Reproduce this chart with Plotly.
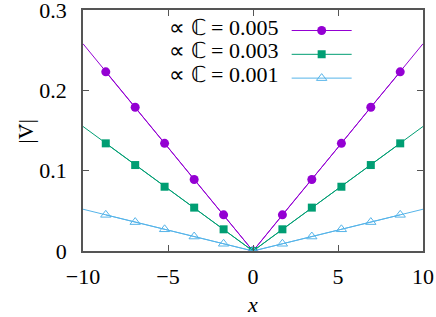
import plotly.graph_objects as go

# data
x_pts = [-8.66, -6.93, -5.20, -3.46, -1.73, 0.0, 1.73, 3.46, 5.20, 6.93, 8.66]
y_005 = [0.223, 0.179, 0.134, 0.089, 0.045, 0.0, 0.045, 0.089, 0.134, 0.179, 0.223]
y_003 = [0.134, 0.107, 0.080, 0.054, 0.027, 0.0, 0.027, 0.054, 0.080, 0.107, 0.134]
y_001 = [0.045, 0.036, 0.027, 0.018, 0.009, 0.0, 0.009, 0.018, 0.027, 0.036, 0.045]
x_line = [-10, 0, 10]
yl_005 = [0.258, 0.0, 0.258]
yl_003 = [0.155, 0.0, 0.155]
yl_001 = [0.052, 0.0, 0.052]
labels = ["\u221d \u2102 = 0.005", "\u221d \u2102 = 0.003", "\u221d \u2102 = 0.001"]
x_ticks = [-10, -5, 0, 5, 10]
x_ticktext = ["\u221210", "\u22125", "0", "5", "10"]
y_ticks = [0, 0.1, 0.2, 0.3]
y_ticktext = ["0", "0.1", "0.2", "0.3"]

colors = ["#9400D3", "#009E73", "#56B4E9"]
FONT = "Liberation Serif, Times New Roman, serif"
FS = 22

fig = go.Figure()
series = [
    (yl_005, y_005, dict(symbol="circle", size=9, color=colors[0])),
    (yl_003, y_003, dict(symbol="square", size=8, color=colors[1])),
    (yl_001, y_001, dict(symbol="triangle-up-open", size=9, color=colors[2], line=dict(width=1, color=colors[2]))),
]
for i, (yl, yp, mk) in enumerate(series):
    fig.add_trace(go.Scatter(x=x_line, y=yl, mode="lines", line=dict(color=colors[i], width=1),
                             showlegend=False, hoverinfo="skip"))
for i, (yl, yp, mk) in enumerate(series):
    fig.add_trace(go.Scatter(x=x_pts, y=yp, mode="lines+markers", name=" ",
                             line=dict(color=colors[i], width=1), marker=mk))

for i, lab in enumerate(labels):
    fig.add_annotation(text=lab, xref="paper", yref="paper", x=0.578, y=0.927 - i * 0.0965,
                       xanchor="right", yanchor="middle", showarrow=False,
                       font=dict(family=FONT, size=FS, color="#000"))

# y-axis title |V| with an arrow over V (rotated)
fig.add_annotation(text="|V|", xref="paper", yref="paper", x=-0.168, y=0.498,
                   xanchor="center", yanchor="middle", textangle=-90, showarrow=False,
                   font=dict(family=FONT, size=FS, color="#000"))
fig.add_annotation(text="\u2192", xref="paper", yref="paper", x=-0.192, y=0.51,
                   xanchor="center", yanchor="middle", textangle=-90, showarrow=False,
                   font=dict(family=FONT, size=12, color="#000"))

axis_common = dict(showgrid=False, zeroline=False, ticks="inside", ticklen=6, tickwidth=1,
                   tickcolor="#555", showline=True, linecolor="#555", linewidth=1.5,
                   mirror="allticks", automargin=False, ticklabeloverflow="allow",
                   tickfont=dict(family=FONT, size=FS, color="#000"))

fig.update_layout(
    width=436, height=317,
    margin=dict(l=83, r=13, t=10, b=66),
    plot_bgcolor="white", paper_bgcolor="white",
    showlegend=True,
    legend=dict(x=0.599, y=0.985, xanchor="left", yanchor="top", bgcolor="rgba(0,0,0,0)",
                font=dict(family=FONT, size=16), itemwidth=60, tracegroupgap=0,
                itemsizing="trace"),
    xaxis=dict(range=[-10, 10], tickvals=x_ticks, ticktext=x_ticktext, ticklabelstandoff=5,
               title=dict(text="<i>x</i>", font=dict(family=FONT, size=FS, color="#000"), standoff=17),
               **axis_common),
    yaxis=dict(range=[0, 0.3], tickvals=y_ticks, ticktext=y_ticktext, ticklabelstandoff=10,
               **axis_common),
)
fig.write_html("out.html", config={"displayModeBar": False},
               post_script="document.body.style.margin='0';document.body.style.padding='0';")
